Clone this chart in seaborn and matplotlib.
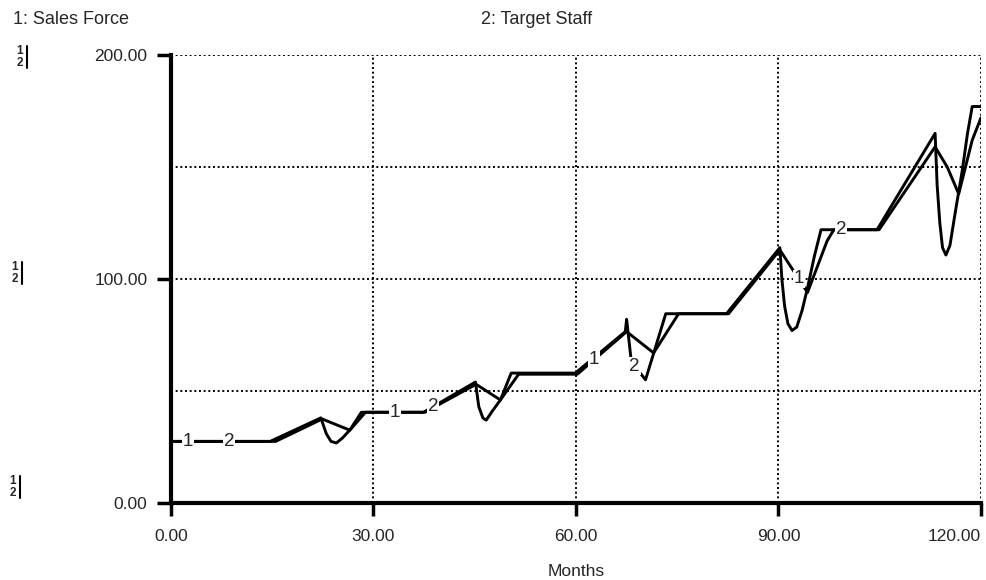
import numpy as np
import pandas as pd
import matplotlib
matplotlib.use("Agg")
import matplotlib.pyplot as plt
from matplotlib.lines import Line2D
import seaborn as sns

# --- data (months, staff) ---
months_sales = [0, 15.5, 22.4, 26.5, 28.8, 37.6, 45.2, 48.8, 51.5, 60.2, 67.5, 71.5,
                75.2, 82.6, 90.2, 94.3, 97.2, 98.2, 104.9, 113.2, 115, 116.7, 118.7, 120]
sales_force = [27.5, 27.5, 37.5, 32.5, 40.5, 40.5, 53, 46, 57.5, 57.5, 76.5, 67,
               84.5, 84.5, 113, 94, 117, 122, 122, 159, 150, 138, 162, 172]

months_target = [0, 14.7, 22.2, 23.0, 23.7, 24.5, 25.4, 26.5, 28.2, 37.4,
                 45.1, 45.6, 46.2, 46.7, 47.6, 48.8, 50.4, 59.9,
                 67.3, 67.5, 67.7, 68.2, 70.3, 73.3, 82.3,
                 90.2, 90.5, 90.9, 91.4, 92, 92.7, 93.5, 94.3, 95.3, 96.3, 104.6,
                 113.2, 113.5, 113.9, 114.3, 114.8, 115.4, 116.2, 117.2, 118.0, 118.7, 120]
target_staff = [27.5, 27.5, 38, 31, 27.5, 26.8, 29, 32.6, 40.5, 40.5,
                54, 43, 38, 37, 41, 46, 58, 58,
                76.5, 82, 76.5, 63, 55, 84.5, 84.5,
                114, 100, 88, 80, 77, 78.5, 86, 96, 110, 122, 122,
                165, 142, 125, 114, 110.7, 115, 130, 148, 165, 177, 177]

label_months_1 = [2.5, 33.2, 62.7, 93.0]
label_months_2 = [8.6, 38.8, 68.7, 99.3]

x_ticks = [0, 30, 60, 90, 120]
y_ticks = [0, 100, 200]
y_minor = [50, 150]

df = pd.concat([
    pd.DataFrame({"Months": months_sales, "Value": sales_force, "Series": "1"}),
    pd.DataFrame({"Months": months_target, "Value": target_staff, "Series": "2"}),
])

sns.set_style("white")
plt.rcParams["font.family"] = ["Liberation Sans", "DejaVu Sans"]

W, H = 987, 580
fig = plt.figure(figsize=(W / 100, H / 100), dpi=100)
x0, x1, y0, y1 = 171, 981, 503, 55
ax = fig.add_axes([x0 / W, 1 - y0 / H, (x1 - x0) / W, (y0 - y1) / H])

sns.lineplot(data=df, x="Months", y="Value", hue="Series", palette=["black", "black"],
             estimator=None, linewidth=2.1, legend=False, ax=ax, zorder=3)

# series number labels sitting on the curves
for xs, (mx, vy), tag in [(label_months_1, (months_sales, sales_force), "1"),
                          (label_months_2, (months_target, target_staff), "2")]:
    for lx, ly in zip(xs, np.interp(xs, mx, vy)):
        ax.text(lx, ly, tag, ha="center", va="center", fontsize=13.5, zorder=5,
                bbox=dict(facecolor="white", edgecolor="none", pad=0.6))

ax.set_xlim(0, 120)
ax.set_ylim(0, 200)
ax.set_xticks(x_ticks)
ax.set_xticklabels([f"{t:.2f}" for t in x_ticks])
ax.set_yticks(y_ticks)
ax.set_yticklabels([f"{t:.2f}" for t in y_ticks])
ax.set_yticks(y_minor, minor=True)
ax.get_xticklabels()[-1].set_ha("right")

ax.grid(True, which="both", color="black", linestyle=(0, (1, 1.4)), linewidth=1.4, zorder=1)
ax.set_axisbelow(True)
for s in ["top", "right"]:
    ax.spines[s].set_visible(False)
for s in ["left", "bottom"]:
    ax.spines[s].set_linewidth(3)
    ax.spines[s].set_color("black")
    ax.spines[s].set_zorder(4)

ax.tick_params(axis="y", which="major", direction="out", length=10, width=2.5,
               labelsize=12.5, pad=7, color="black", left=True)
ax.tick_params(axis="x", which="major", direction="out", length=9, width=2.5,
               labelsize=12.5, pad=10, color="black", bottom=True)
ax.tick_params(which="minor", length=0)

ax.set_xlabel("Months", fontsize=12.5, labelpad=14)
ax.set_ylabel("")

fig.text(13 / W, 1 - 20 / H, "1: Sales Force", fontsize=13, va="center", ha="left")
fig.text(537 / W, 1 - 20 / H, "2: Target Staff", fontsize=13, va="center", ha="center")

# scale markers at the far left
for yc, xc in [(57, 20), (273, 15), (487, 13)]:
    fig.text(xc / W, 1 - (yc - 6) / H, "1", fontsize=8.5, fontweight="bold", ha="center", va="center")
    fig.text(xc / W, 1 - (yc + 6) / H, "2", fontsize=8.5, fontweight="bold", ha="center", va="center")
    bx = (xc + 7) / W
    fig.add_artist(Line2D([bx, bx], [1 - (yc - 11) / H, 1 - (yc + 11) / H],
                          transform=fig.transFigure, color="black", linewidth=1.5))

fig.savefig("out.png", dpi=100)
